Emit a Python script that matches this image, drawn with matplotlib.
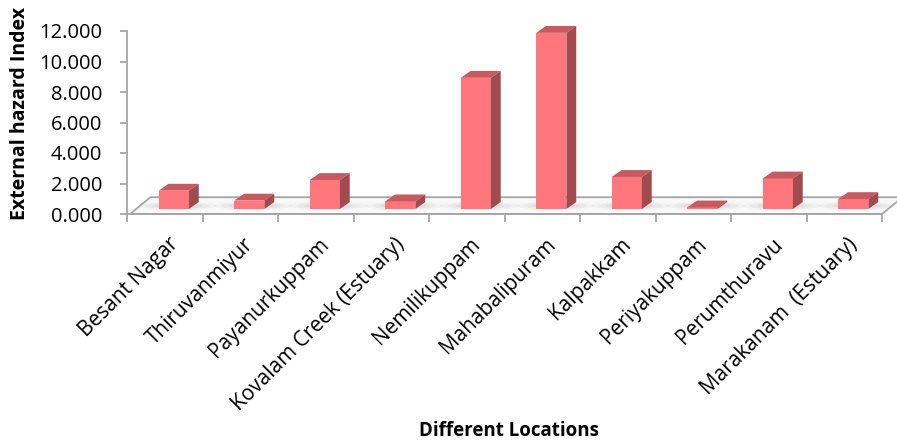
import numpy as np
import matplotlib.pyplot as plt
from matplotlib.patches import Polygon, Ellipse

locations = ["Besant Nagar", "Thiruvanmiyur", "Payanurkuppam", "Kovalam Creek (Estuary)",
             "Nemilikuppam", "Mahabalipuram", "Kalpakkam", "Periyakuppam",
             "Perumthuravu", "Marakanam  (Estuary)"]
hazard_index = [1.20, 0.55, 1.90, 0.50, 8.60, 11.55, 2.10, 0.10, 2.00, 0.65]
y_ticks = [0, 2, 4, 6, 8, 10, 12]

plt.rcParams['font.family'] = ['Open Sans', 'DejaVu Sans']

FRONT = '#FF777C'
TOP = '#C75A5E'
SIDE = '#A24B4E'
EDGE = '#A6A6A6'

# oblique offsets (data units) for the floor and the bar depth
FLOOR_DX, FLOOR_DY = 0.27, 1.1
BAR_DX, BAR_DY = 0.13, 0.45
BAR_L, BAR_W, BAR_Z = 0.42, 0.40, 0.33


def draw_floor(ax, n):
    floor = Polygon([(0.04, 0), (n, 0), (n + FLOOR_DX, FLOOR_DY), (0.04 + FLOOR_DX, FLOOR_DY)],
                    closed=True, facecolor='#F8F8F8', edgecolor=EDGE, lw=1.3,
                    clip_on=False, zorder=1)
    ax.add_patch(floor)


def draw_bar(ax, i, h):
    x0 = i + BAR_L
    x1 = x0 + BAR_W
    y0 = BAR_Z
    y1 = BAR_Z + h
    # soft shadow on the floor
    for k, (w, a) in enumerate([(1.05, 0.05), (0.85, 0.07), (0.65, 0.09)]):
        ax.add_patch(Ellipse(((x0 + x1) / 2 + 0.05, y0 + 0.2), w, 0.55 - 0.1 * k,
                             facecolor='#808080', alpha=a, lw=0, zorder=2, clip_on=False))
    ax.add_patch(Polygon([(x0, y0), (x1, y0), (x1, y1), (x0, y1)], closed=True,
                         facecolor=FRONT, edgecolor='none', zorder=4, clip_on=False))
    ax.add_patch(Polygon([(x0, y1), (x1, y1), (x1 + BAR_DX, y1 + BAR_DY), (x0 + BAR_DX, y1 + BAR_DY)],
                         closed=True, facecolor=TOP, edgecolor='none', zorder=4, clip_on=False))
    ax.add_patch(Polygon([(x1, y0), (x1 + BAR_DX, y0 + BAR_DY), (x1 + BAR_DX, y1 + BAR_DY), (x1, y1)],
                         closed=True, facecolor=SIDE, edgecolor='none', zorder=4, clip_on=False))


def main():
    fig = plt.figure(figsize=(8.97, 4.41), dpi=100)
    W, H = 897, 441
    ax = fig.add_axes([127 / W, 1 - 214 / H, (882 - 127) / W, (214 - 31) / H])
    n = len(locations)
    ax.set_xlim(0, n)
    ax.set_ylim(0, 12)

    draw_floor(ax, n)
    for i, h in enumerate(hazard_index):
        draw_bar(ax, i, h)

    for s in ['top', 'right']:
        ax.spines[s].set_visible(False)
    ax.spines['left'].set_color(EDGE)
    ax.spines['left'].set_linewidth(1.3)
    ax.spines['bottom'].set_color(EDGE)
    ax.spines['bottom'].set_linewidth(1.3)

    ax.set_yticks(y_ticks)
    ax.set_yticklabels([f"{v:.3f}" for v in y_ticks], fontsize=14.5)
    ax.tick_params(axis='y', length=5, width=1.3, color=EDGE, pad=13)
    ax.set_xticks(np.arange(n + 1))
    ax.set_xticklabels([])
    ax.tick_params(axis='x', length=6, width=1.3, color=EDGE)

    for i, name in enumerate(locations):
        ax.text(i + 0.54, -1.3, name, rotation=45, ha='right', va='top',
                rotation_mode='anchor', fontsize=15)

    fig.text(509 / W, 1 - 431 / H, "Different Locations", ha='center', va='center',
             fontsize=13.5, fontweight='bold')
    fig.text(20 / W, 1 - 113 / H, "External hazard Index", ha='center', va='center',
             rotation=90, fontsize=14, fontweight='bold')

    fig.savefig("out.png", dpi=100)


if __name__ == '__main__':
    main()
